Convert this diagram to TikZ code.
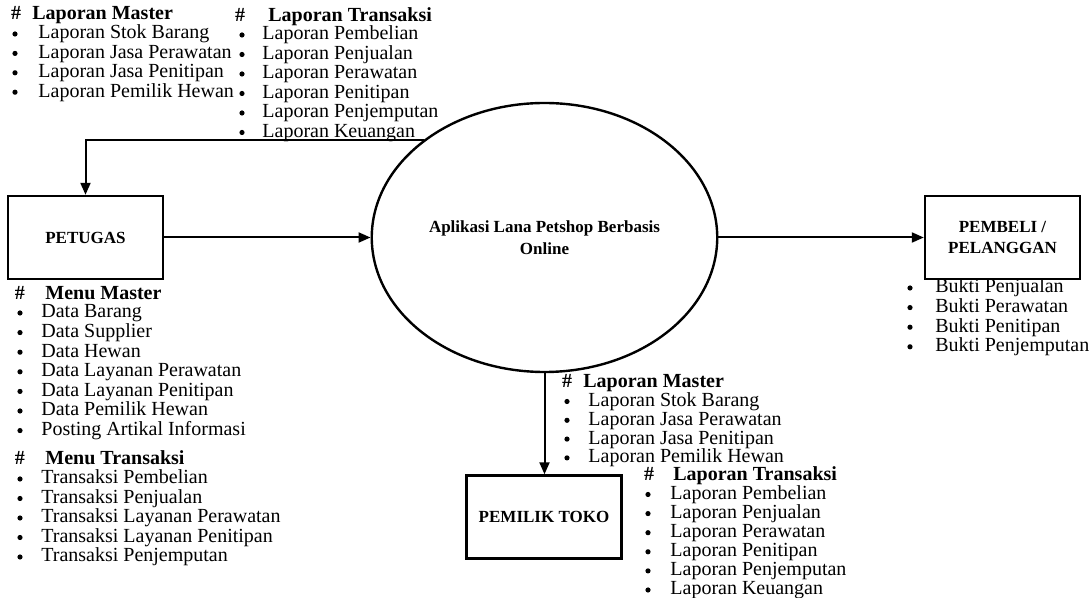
\documentclass[tikz,border=0pt]{standalone}
\usepackage{fontspec}
\setmainfont{Liberation Serif}
\usetikzlibrary{positioning}
\usetikzlibrary{shapes.geometric}
\usetikzlibrary{arrows.meta}
\tikzstyle{entity}=[draw, line width=1.2pt, minimum width=77.5pt, minimum height=41.5pt, align=center, font=\fontsize{8.5}{10.5}\selectfont\bfseries]
\tikzstyle{process}=[draw, ellipse, line width=1.2pt, minimum width=167.5pt, minimum height=134.5pt, align=center, font=\fontsize{8.5}{10}\selectfont\bfseries]
\tikzstyle{flow}=[line width=1pt, -{Triangle[length=6pt,width=5pt]}]
\tikzstyle{item}=[anchor=west, inner sep=0pt, text height=7pt, text depth=2pt, font=\fontsize{10}{12}\selectfont]
\tikzstyle{head}=[item, font=\fontsize{10}{12}\selectfont\bfseries]
\tikzstyle{hash}=[inner sep=0pt, text height=7pt, text depth=2pt, font=\fontsize{10}{12}\selectfont\bfseries]
\tikzstyle{dot}=[circle, fill, inner sep=0pt, minimum size=2.6pt]

\begin{document}
\begin{tikzpicture}[x=0.5pt, y=-0.5pt]
  \useasboundingbox (0,0) rectangle (1089,598);
  % entities and process
  \node[process] (proc) at (544.5,237.5) {Aplikasi Lana Petshop Berbasis\\[1pt]Online};
  \node[entity] (petugas) at (85.5,237.5) {PETUGAS};
  \node[entity] (pembeli) at (1002.5,237.5) {PEMBELI /\\PELANGGAN};
  \node[entity] (pemilik) at (544,517) {PEMILIK TOKO};
  \draw[flow] (petugas) -- (proc);
  \draw[flow] (proc) -- (pembeli);
  \draw[flow] (proc.south) -- (proc.south |- pemilik.north);
  \draw[flow] (proc.141) -| (petugas.north);
  % laporan to petugas
  \node[hash] (hlm) at (16,15) {\#};
  \node[head] (tlm) at (32,15) {Laporan Master};
  \foreach \t [count=\i from 0] in {Laporan Stok Barang, Laporan Jasa Perawatan, Laporan Jasa Penitipan, Laporan Pemilik Hewan}{
    \node[dot] (blm\i) at (15,34+19.4*\i) {};
    \node[item] (lm\i) at (38,34+19.4*\i) {\t};
  }
  \node[hash] (hlt) at (240,17) {\#};
  \node[head] (tlt) at (268,17) {Laporan Transaksi};
  \foreach \t [count=\i from 0] in {Laporan Pembelian, Laporan Penjualan, Laporan Perawatan, Laporan Penitipan, Laporan Penjemputan, Laporan Keuangan}{
    \node[dot] (blt\i) at (242,35+19.5*\i) {};
    \node[item] (lt\i) at (262,35+19.5*\i) {\t};
  }
  % menu from petugas
  \node[hash] (hmm) at (20,295) {\#};
  \node[head] (tmm) at (45,295) {Menu Master};
  \foreach \t [count=\i from 0] in {Data Barang, Data Supplier, Data Hewan, Data Layanan Perawatan, Data Layanan Penitipan, Data Pemilik Hewan, Posting Artikal Informasi}{
    \node[dot] (bmm\i) at (20,313+19.6*\i) {};
    \node[item] (mm\i) at (41,313+19.6*\i) {\t};
  }
  \node[hash] (hmt) at (20,460) {\#};
  \node[head] (tmt) at (45,460) {Menu Transaksi};
  \foreach \t [count=\i from 0] in {Transaksi Pembelian, Transaksi Penjualan, Transaksi Layanan Perawatan, Transaksi Layanan Penitipan, Transaksi Penjemputan}{
    \node[dot] (bmt\i) at (20,479+19.5*\i) {};
    \node[item] (mt\i) at (41,479+19.5*\i) {\t};
  }
  % bukti to pembeli
  \foreach \t [count=\i from 0] in {Bukti Penjualan, Bukti Perawatan, Bukti Penitipan, Bukti Penjemputan}{
    \node[dot] (bbk\i) at (910,288+19.6*\i) {};
    \node[item] (bk\i) at (935,288+19.6*\i) {\t};
  }
  % laporan to pemilik toko
  \node[hash] (hpm) at (567,382.5) {\#};
  \node[head] (tpm) at (583,382.5) {Laporan Master};
  \foreach \t [count=\i from 0] in {Laporan Stok Barang, Laporan Jasa Perawatan, Laporan Jasa Penitipan, Laporan Pemilik Hewan}{
    \node[dot] (bpm\i) at (567,401.5+18.8*\i) {};
    \node[item] (pm\i) at (588,401.5+18.8*\i) {\t};
  }
  \node[hash] (hpt) at (649,476) {\#};
  \node[head] (tpt) at (673,476) {Laporan Transaksi};
  \foreach \t [count=\i from 0] in {Laporan Pembelian, Laporan Penjualan, Laporan Perawatan, Laporan Penitipan, Laporan Penjemputan, Laporan Keuangan}{
    \node[dot] (bpt\i) at (648,494.5+19.1*\i) {};
    \node[item] (pt\i) at (670,494.5+19.1*\i) {\t};
  }
\end{tikzpicture}
\end{document}
